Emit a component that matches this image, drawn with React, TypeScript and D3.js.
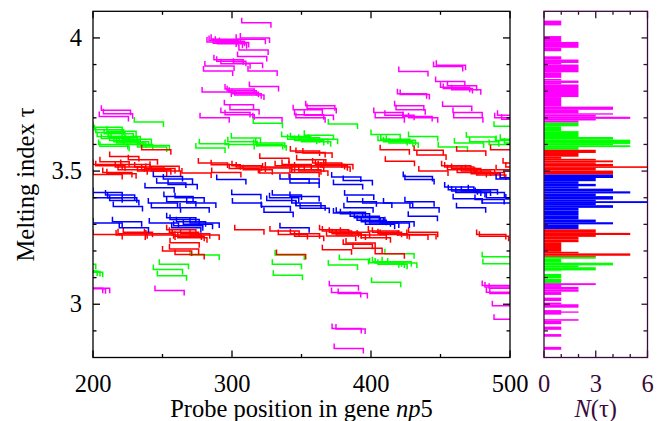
import React from "react";
import * as d3 from "d3";

const W = 669;
const H = 421;

// Axis ticks
const xMajorTicks = [200, 300, 400, 500];
const xMinorTicks = [250, 350, 450];
const yMajorTicks = [3, 3.5, 4];
const yMajorLabels = ["3", "3.5", "4"];
const yMinorTicks = [2.9, 3.1, 3.2, 3.3, 3.4, 3.6, 3.7, 3.8, 3.9];
const nMajorTicks = [0, 3, 6];
const nMinorTicks = [1, 2, 4, 5];
const PROBE_LENGTH = 21;

// Probes: [start position, melting index tau]
const upperMagenta: [number, number][] = [
  [307, 4.057], [306, 4.0], [303, 3.995], [282, 3.985], [283.5, 3.99], [285, 3.995], [286.5, 3.98],
  [288, 3.988], [289.5, 3.978], [291, 3.983], [305, 3.955], [304, 3.93], [287, 3.918], [289, 3.912],
  [292, 3.903], [301, 3.905], [280.5, 3.895], [279.5, 3.876], [311.5, 3.876], [312.5, 3.818],
  [278.5, 3.797], [295, 3.808], [296.5, 3.802], [298, 3.796], [300, 3.79], [302, 3.786],
  [294.5, 3.749], [298.5, 3.73], [277, 3.7], [292, 3.72], [295, 3.712], [315, 3.7],
  [204.5, 3.705], [206, 3.728], [207.5, 3.715],
  [344, 3.73], [345, 3.712], [346, 3.7], [352, 3.71], [353, 3.745], [354, 3.735],
  [402, 3.72], [403, 3.7], [410, 3.71], [417, 3.745], [418, 3.73], [423, 3.705], [427, 3.7],
  [420, 3.874], [445, 3.893], [447, 3.897], [446.5, 3.836], [419, 3.79], [421, 3.788],
  [450, 3.815], [452, 3.81], [455, 3.82], [458, 3.805], [451.5, 3.743], [459, 3.72], [459.5, 3.7],
  [489, 3.7], [491, 3.71], [494, 3.695],
];

const upperGreen: [number, number][] = [
  [200, 3.665], [201, 3.655], [202, 3.645], [203, 3.63], [204, 3.6], [205, 3.593], [206, 3.622],
  [208, 3.64], [210, 3.65], [211, 3.625], [212, 3.615], [213, 3.63], [215, 3.61], [217, 3.605],
  [219, 3.61], [221, 3.62], [222, 3.6], [229.7, 3.684], [232, 3.59], [234, 3.596],
  [274, 3.587], [276.5, 3.603], [295, 3.6], [297, 3.61], [299.5, 3.624], [315.5, 3.6], [317, 3.605],
  [318, 3.595], [315.3, 3.68], [335.7, 3.63], [340, 3.62], [342, 3.625], [345, 3.615], [348, 3.62],
  [350, 3.61], [352, 3.635], [355, 3.62], [369.3, 3.677], [400, 3.637], [405, 3.615], [407, 3.62],
  [409, 3.61], [411, 3.616], [413, 3.605], [427, 3.63], [448.4, 3.59], [460, 3.605], [468.6, 3.628],
  [471, 3.61], [485, 3.6], [488.5, 3.668], [490, 3.615], [493, 3.62], [496, 3.605],
];

const upperRed: [number, number][] = [
  [235, 3.58], [212, 3.555], [225.4, 3.543], [200, 3.525], [202, 3.52], [205, 3.535], [216, 3.515],
  [218, 3.505], [220, 3.525], [230, 3.515], [232, 3.5], [235, 3.505], [238, 3.51], [200, 3.487],
  [207, 3.495], [210, 3.49], [241, 3.518], [242, 3.5], [264, 3.493], [275.8, 3.53], [285, 3.524],
  [285.4, 3.495], [298, 3.51], [300, 3.52], [303, 3.515], [308, 3.505], [320, 3.548], [322, 3.512],
  [324, 3.515], [320, 3.493], [331, 3.52], [336, 3.525], [341, 3.52],
  [342, 3.575], [346, 3.57], [351, 3.568], [346.5, 3.543], [358, 3.53], [360, 3.525], [362, 3.52],
  [364, 3.515], [366, 3.525], [343, 3.505], [345, 3.515], [348, 3.5], [341.7, 3.495], [406.6, 3.58],
  [410.3, 3.537], [431, 3.578], [433, 3.56], [450.8, 3.52], [453, 3.515], [461.6, 3.575],
  [434.4, 3.5], [455, 3.505], [458, 3.51], [462, 3.495], [465, 3.5], [468, 3.505], [472, 3.49],
  [475, 3.495], [490, 3.505], [486, 3.58], [495, 3.53], [497, 3.515], [476, 3.485],
];

const middleBlue: [number, number][] = [
  [243.4, 3.48], [237.4, 3.437], [250.6, 3.47], [245.8, 3.455], [289, 3.468], [200, 3.42], [200, 3.4],
  [209, 3.41], [210.5, 3.4], [212, 3.39], [214.6, 3.367], [239.8, 3.38], [242, 3.362], [251, 3.405],
  [253, 3.385], [259, 3.4], [267.4, 3.38], [262.6, 3.362], [299.8, 3.412], [300.3, 3.38], [321, 3.367],
  [323, 3.345], [325, 3.39], [327, 3.4], [329, 3.41], [334.5, 3.47], [200, 3.305], [214, 3.31],
  [218.9, 3.287], [240.5, 3.305], [253, 3.325], [255.4, 3.318], [256.6, 3.287], [269.8, 3.305],
  [254, 3.45], [334.5, 3.287], [265, 3.3], [260, 3.31], [258, 3.295],
  [341.7, 3.47], [341.7, 3.455], [371.7, 3.478], [373, 3.45], [380, 3.465], [341.7, 3.405], [343, 3.38],
  [346, 3.37], [349, 3.36], [381, 3.41], [382.9, 3.385], [380.5, 3.362], [373, 3.343], [375, 3.345],
  [378, 3.34], [385, 3.33], [388, 3.325], [390, 3.315], [393, 3.31], [396, 3.3], [399, 3.305],
  [394, 3.38], [409, 3.38], [406.6, 3.305], [410, 3.31], [424.4, 3.468], [424.4, 3.385], [428, 3.362],
  [426.8, 3.33], [423.2, 3.48], [455.6, 3.43], [458, 3.425], [461, 3.42], [465, 3.425], [470, 3.43],
  [475, 3.42], [459.1, 3.396], [461.5, 3.362], [474.8, 3.393], [453, 3.44], [480, 3.38], [483, 3.4],
  [490, 3.47], [493, 3.475], [497, 3.395],
];

const lowerRed: [number, number][] = [
  [200, 3.262], [216.6, 3.26], [218, 3.265], [221.8, 3.27], [237, 3.265], [238, 3.26], [253, 3.28],
  [255, 3.27], [257, 3.26], [259, 3.255], [261, 3.25], [263, 3.265], [255.4, 3.231], [269.8, 3.26],
  [250, 3.2], [255, 3.207], [259, 3.187], [302, 3.28], [327.3, 3.275], [333.3, 3.262], [332, 3.187],
  [342, 3.265], [345, 3.255], [363, 3.28], [365, 3.275], [368, 3.256], [370, 3.27], [372, 3.265],
  [375, 3.26], [378, 3.27], [380, 3.225], [382, 3.23], [365, 3.205], [387, 3.21], [390, 3.26],
  [393, 3.25], [403, 3.19], [406.6, 3.262], [398.1, 3.275], [401, 3.27], [405, 3.265], [420, 3.26],
  [425.8, 3.262], [427, 3.27], [476, 3.262], [478, 3.255],
];

const lowerGreen: [number, number][] = [
  [181, 3.15], [182, 3.125], [184, 3.123], [186, 3.12], [243.4, 3.13], [247.7, 3.15], [246.3, 3.107],
  [269.8, 3.185], [329, 3.15], [331, 3.185], [329.7, 3.109], [369.3, 3.147], [377.2, 3.168],
  [399, 3.156], [401, 3.16], [403, 3.155], [405, 3.15], [408, 3.16], [410, 3.19], [412, 3.155],
  [400.4, 3.083], [480, 3.178], [480.5, 3.152],
];

const lowerMagenta: [number, number][] = [
  [186, 3.06], [188, 3.058], [191, 3.06], [244.6, 3.052], [370, 3.069], [371.6, 3.044], [376.4, 3.04],
  [372, 2.909], [374.8, 2.907], [373.5, 2.834], [480, 3.07], [482, 3.065], [485, 3.06], [483, 3.045],
  [485.5, 3.04], [487.3, 2.994], [488.5, 2.944],
];

// Histogram of tau: [upper tau, lower tau, count]
const histogram: [number, number, number][] = [
  [4.065, 4.047, 1], [4.007, 3.985, 1], [3.985, 3.963, 2], [3.963, 3.95, 1], [3.931, 3.919, 1],
  [3.919, 3.906, 2], [3.906, 3.9, 1], [3.9, 3.871, 2], [3.871, 3.85, 1], [3.846, 3.84, 1],
  [3.84, 3.831, 2], [3.831, 3.825, 1], [3.825, 3.778, 2], [3.778, 3.742, 1], [3.742, 3.73, 4],
  [3.73, 3.717, 2], [3.717, 3.712, 4], [3.712, 3.704, 3], [3.704, 3.696, 5], [3.696, 3.69, 3],
  [3.69, 3.682, 2],
  [3.682, 3.668, 2], [3.668, 3.65, 1], [3.65, 3.628, 2], [3.628, 3.618, 4], [3.618, 3.602, 5],
  [3.602, 3.597, 4], [3.597, 3.59, 5], [3.59, 3.58, 2],
  [3.58, 3.568, 3], [3.568, 3.554, 2], [3.554, 3.546, 1], [3.546, 3.54, 3], [3.54, 3.533, 4],
  [3.533, 3.527, 3], [3.527, 3.518, 4], [3.518, 3.512, 6], [3.512, 3.502, 3], [3.502, 3.487, 4],
  [3.487, 3.474, 4], [3.474, 3.462, 3], [3.462, 3.452, 2], [3.452, 3.443, 3], [3.443, 3.434, 2],
  [3.434, 3.424, 4], [3.424, 3.416, 5], [3.416, 3.406, 3], [3.406, 3.393, 4], [3.393, 3.387, 3],
  [3.387, 3.38, 6], [3.38, 3.372, 3], [3.372, 3.362, 4], [3.362, 3.352, 2], [3.352, 3.334, 2],
  [3.334, 3.318, 2], [3.318, 3.308, 3], [3.308, 3.3, 4], [3.3, 3.281, 2],
  [3.281, 3.268, 3], [3.268, 3.26, 5], [3.26, 3.253, 3], [3.253, 3.243, 2], [3.243, 3.233, 2],
  [3.233, 3.197, 1], [3.197, 3.191, 2], [3.191, 3.182, 5], [3.182, 3.178, 3],
  [3.178, 3.171, 3], [3.171, 3.156, 1], [3.156, 3.146, 4], [3.146, 3.139, 2], [3.139, 3.127, 3],
  [3.127, 3.124, 1], [3.114, 3.098, 1], [3.096, 3.079, 1],
  [3.079, 3.072, 3], [3.072, 3.065, 1], [3.065, 3.056, 2], [3.056, 3.047, 2], [3.047, 3.035, 1],
  [3.025, 3.012, 1], [3.006, 3.0, 1], [3.0, 2.987, 2], [2.978, 2.961, 1], [2.973, 2.968, 2],
  [2.944, 2.938, 2], [2.938, 2.925, 1], [2.916, 2.904, 1], [2.888, 2.878, 1], [2.84, 2.829, 1],
];

const MAGENTA = "#ff00ff";
const GREEN = "#00ff00";
const RED = "#ff0000";
const BLUE = "#0000ff";
const PURPLE = "#3a0a3a";

const probeGroups: { data: [number, number][]; color: string }[] = [
  { data: upperMagenta, color: MAGENTA },
  { data: lowerMagenta, color: MAGENTA },
  { data: upperGreen, color: GREEN },
  { data: lowerGreen, color: GREEN },
  { data: upperRed, color: RED },
  { data: lowerRed, color: RED },
  { data: middleBlue, color: BLUE },
];

function bandColor(t: number): string {
  if (t >= 3.68 || t < 3.08) return MAGENTA;
  if (t >= 3.58 || t < 3.178) return GREEN;
  if (t >= 3.485 || t < 3.281) return RED;
  return BLUE;
}

export default function App() {
  const left = 93, right = 510, top = 11.3, bottom = 357.5;
  const hLeft = 544, hRight = 647.5;
  const x = d3.scaleLinear().domain([200, 500]).range([left, right]);
  const y = d3.scaleLinear().domain([2.8, 4.1]).range([bottom, top]);
  const hx = d3.scaleLinear().domain([0, 6]).range([hLeft, hRight]);
  const font = "'Liberation Serif', 'Times New Roman', serif";
  const fs = 24.5;
  const tickMaj = 7, tickMin = 3.5;
  const hTick = 4;

  const seg = (p: number, t: number) => {
    const x0 = x(p), x1 = x(p + PROBE_LENGTH), yy = y(t);
    return `M${x0},${yy - 5}V${yy}H${x1}V${yy + 5}`;
  };

  return (
    <svg width={W} height={H} style={{ display: "block", position: "absolute", left: 0, top: 0, background: "#fff" }}>
      <defs>
        <clipPath id="mainClip">
          <rect x={left} y={top} width={right - left} height={bottom - top} />
        </clipPath>
      </defs>

      {/* probes */}
      <g clipPath="url(#mainClip)" fill="none" strokeWidth={1.5}>
        {probeGroups.map((g, gi) =>
          g.data.map(([p, t], i) => (
            <path key={`${gi}-${i}`} d={seg(p, t)} stroke={g.color} />
          ))
        )}
      </g>

      {/* main frame */}
      <rect x={left} y={top} width={right - left} height={bottom - top} fill="none" stroke="#000" strokeWidth={1.3} />
      <g stroke="#000" strokeWidth={1.3}>
        {xMajorTicks.map((v) => (
          <g key={`xm${v}`}>
            <line x1={x(v)} x2={x(v)} y1={bottom} y2={bottom - tickMaj} />
            <line x1={x(v)} x2={x(v)} y1={top} y2={top + tickMaj} />
          </g>
        ))}
        {xMinorTicks.map((v) => (
          <g key={`xn${v}`}>
            <line x1={x(v)} x2={x(v)} y1={bottom} y2={bottom - tickMin} />
            <line x1={x(v)} x2={x(v)} y1={top} y2={top + tickMin} />
          </g>
        ))}
        {yMajorTicks.map((v) => (
          <g key={`ym${v}`}>
            <line x1={left} x2={left + tickMaj} y1={y(v)} y2={y(v)} />
            <line x1={right} x2={right - tickMaj} y1={y(v)} y2={y(v)} />
          </g>
        ))}
        {yMinorTicks.map((v) => (
          <g key={`yn${v}`}>
            <line x1={left} x2={left + tickMin} y1={y(v)} y2={y(v)} />
            <line x1={right} x2={right - tickMin} y1={y(v)} y2={y(v)} />
          </g>
        ))}
      </g>

      {/* main tick labels */}
      <g fontFamily={font} fontSize={fs} fill="#000">
        {xMajorTicks.map((v) => (
          <text key={`xl${v}`} x={x(v)} y={392} textAnchor="middle">{v}</text>
        ))}
        {yMajorTicks.map((v, i) => (
          <text key={`yl${v}`} x={left - 11} y={y(v) + 8} textAnchor="end">{yMajorLabels[i]}</text>
        ))}
        <text x={(left + right) / 2} y={417} textAnchor="middle">
          Probe position in gene <tspan fontStyle="italic">np</tspan>5
        </text>
        <text transform={`translate(34,${(top + bottom) / 2}) rotate(-90)`} textAnchor="middle">
          Melting index τ
        </text>
      </g>

      {/* histogram */}
      <g>
        {histogram.map(([hi, lo, n], i) => (
          <rect key={`h${i}`} x={hx(0)} y={y(hi)} width={hx(n) - hx(0)} height={y(lo) - y(hi)}
            fill={bandColor((hi + lo) / 2)} />
        ))}
      </g>
      <rect x={hLeft} y={top} width={hRight - hLeft} height={bottom - top} fill="none" stroke={PURPLE} strokeWidth={1.3} />
      <g stroke={PURPLE} strokeWidth={1.3}>
        {nMajorTicks.map((v) => (
          <g key={`nm${v}`}>
            <line x1={hx(v)} x2={hx(v)} y1={bottom} y2={bottom - tickMaj} />
            <line x1={hx(v)} x2={hx(v)} y1={top} y2={top + tickMaj} />
          </g>
        ))}
        {nMinorTicks.map((v) => (
          <g key={`nn${v}`}>
            <line x1={hx(v)} x2={hx(v)} y1={bottom} y2={bottom - tickMin} />
            <line x1={hx(v)} x2={hx(v)} y1={top} y2={top + tickMin} />
          </g>
        ))}
        {yMajorTicks.map((v) => (
          <g key={`hym${v}`}>
            <line x1={hLeft} x2={hLeft + hTick + 2} y1={y(v)} y2={y(v)} />
            <line x1={hRight} x2={hRight - hTick - 2} y1={y(v)} y2={y(v)} />
          </g>
        ))}
        {yMinorTicks.map((v) => (
          <g key={`hyn${v}`}>
            <line x1={hLeft} x2={hLeft + hTick} y1={y(v)} y2={y(v)} />
            <line x1={hRight} x2={hRight - hTick} y1={y(v)} y2={y(v)} />
          </g>
        ))}
      </g>
      <g fontFamily={font} fontSize={fs} fill={PURPLE}>
        {nMajorTicks.map((v) => (
          <text key={`nl${v}`} x={hx(v)} y={392} textAnchor="middle">{v}</text>
        ))}
        <text x={hx(3)} y={417} textAnchor="middle">
          <tspan fontStyle="italic">N</tspan>(τ)
        </text>
      </g>
    </svg>
  );
}
